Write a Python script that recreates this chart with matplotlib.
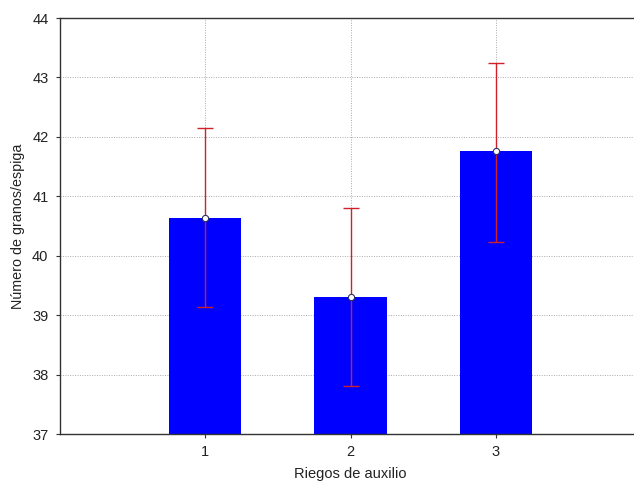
import matplotlib
matplotlib.use("Agg")
import matplotlib.pyplot as plt
import numpy as np

plt.rcParams['font.family'] = ['Liberation Sans', 'DejaVu Sans']

categories = ["1", "2", "3"]
means = [40.64, 39.31, 41.76]
lower = [39.13, 37.80, 40.23]
upper = [42.15, 40.81, 43.25]
yticks = [37, 38, 39, 40, 41, 42, 43, 44]

fig = plt.figure(figsize=(6.34, 4.83), dpi=100)
W, H = 634, 483
left, right, top, bottom = 59.5, 641.5, 18, 434
ax = fig.add_axes([left / W, 1 - bottom / H, (right - left) / W, (bottom - top) / H])

x = np.arange(1, len(categories) + 1)
ax.bar(x, [m - 37 for m in means], bottom=37, width=0.5, color="#0000ff", zorder=2)
yerr = [np.array(means) - np.array(lower), np.array(upper) - np.array(means)]
ax.errorbar(x, means, yerr=yerr, fmt='none', ecolor="#d0202a", elinewidth=1.0,
            capsize=5.5, capthick=1.0, zorder=3)
ax.plot(x, means, linestyle='none', marker='o', markersize=4.5,
        markerfacecolor='white', markeredgecolor='#303060', markeredgewidth=0.8, zorder=4)

ax.set_xlim(0, 4)
ax.set_ylim(37, 44)
ax.set_xticks(x)
ax.set_xticklabels(categories)
ax.set_yticks(yticks)
ax.tick_params(axis='both', labelsize=10.5, length=3, color='#333333', labelcolor='#222222')
ax.tick_params(axis='y', pad=5)
ax.tick_params(axis='x', pad=5)
ax.grid(True, linestyle=(0, (1, 1.5)), color='#aaaaaa', linewidth=0.7, zorder=0)
ax.set_axisbelow(True)
for s in ['top', 'left', 'bottom']:
    ax.spines[s].set_color('#333333')
    ax.spines[s].set_linewidth(1.0)
ax.spines['right'].set_visible(False)

ax.set_xlabel("Riegos de auxilio", fontsize=10.5, color='#222222', labelpad=6)
ax.set_ylabel("Número de granos/espiga", fontsize=10.3, color='#222222', labelpad=5)

fig.savefig("out.png", dpi=100)
